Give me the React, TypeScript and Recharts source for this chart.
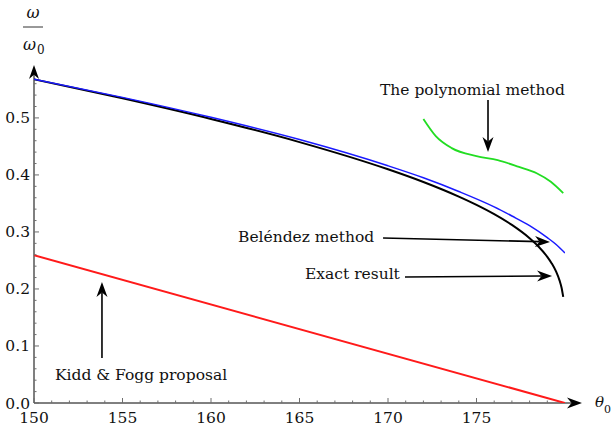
import React from "react"
import { LineChart, Line, XAxis, YAxis, ReferenceLine } from "recharts"

// theta_0 in degrees, omega / omega_0
const exactTheta = [150, 155, 160, 165, 170, 172, 174, 175, 176, 177, 178, 178.5, 179, 179.25, 179.5, 179.7, 179.8, 179.9]
const exactRatio = [0.5677, 0.5344, 0.4982, 0.4576, 0.4099, 0.3876, 0.362, 0.3475, 0.3312, 0.3123, 0.289, 0.2745, 0.2563, 0.2448, 0.2303, 0.2142, 0.203, 0.186]

const belendezTheta = [150, 155, 160, 165, 170, 172, 174, 176, 177, 178, 179, 179.5, 180]
const belendezRatio = [0.568, 0.536, 0.501, 0.462, 0.416, 0.395, 0.371, 0.344, 0.328, 0.311, 0.29, 0.278, 0.263]

const polyTheta = [172.0, 172.7, 173.6, 175.0, 176.2, 177.4, 178.4, 179.2, 179.9]
const polyRatio = [0.498, 0.468, 0.447, 0.433, 0.426, 0.414, 0.403, 0.388, 0.368]

const kiddTheta = [150, 180]
const kiddRatio = [0.259, 0]

const xMajor = [150, 155, 160, 165, 170, 175]
const xTicks = Array.from({ length: 30 }, (_, i) => 150 + i)
const yMajor = [0, 0.1, 0.2, 0.3, 0.4, 0.5]
const yTicks = Array.from({ length: 29 }, (_, i) => Math.round(i * 2) / 100)

const toPoints = (xs: number[], ys: number[]) => xs.map((x, i) => ({ x, y: ys[i] }))

const AXIS = "#6e6e6e"
const FONT = "DejaVu Serif"

const XTick = (props: any) => {
  const { x, y, payload } = props
  const major = xMajor.includes(payload.value)
  return (
    <g>
      <line x1={x} x2={x} y1={y} y2={y - (major ? 5 : 2.5)} stroke={AXIS} strokeWidth={1} />
      {major && (
        <text x={x} y={y + 20} textAnchor="middle" fontFamily={FONT} fontSize={15.5} fill="#111">
          {payload.value}
        </text>
      )}
    </g>
  )
}

const YTick = (props: any) => {
  const { x, y, payload } = props
  const major = yMajor.some((v) => Math.abs(v - payload.value) < 1e-6)
  return (
    <g>
      <line x1={x} x2={x + (major ? 5 : 2.5)} y1={y} y2={y} stroke={AXIS} strokeWidth={1} />
      {major && (
        <text x={x - 4} y={y + 5.5} textAnchor="end" fontFamily={FONT} fontSize={15.5} fill="#111">
          {payload.value.toFixed(1)}
        </text>
      )}
    </g>
  )
}

// line with a filled dart-shaped head at the (x2, y2) end
const arrow = (color: string, width: number, head: number, half: number) => (props: any) => {
  const { x1, y1, x2, y2 } = props
  const dx = x2 - x1
  const dy = y2 - y1
  const len = Math.sqrt(dx * dx + dy * dy) || 1
  const ux = dx / len
  const uy = dy / len
  const bx = x2 - ux * head
  const by = y2 - uy * head
  const nx = -uy
  const ny = ux
  const inner = head * 0.3
  const pts = [
    [x2, y2],
    [bx + nx * half, by + ny * half],
    [bx + ux * inner, by + uy * inner],
    [bx - nx * half, by - ny * half],
  ]
  return (
    <g>
      <line x1={x1} y1={y1} x2={bx + ux * inner} y2={by + uy * inner} stroke={color} strokeWidth={width} />
      <polygon points={pts.map((p) => p.join(",")).join(" ")} fill={color} />
    </g>
  )
}

export default function App() {
  return (
    <div style={{ position: "fixed", left: 0, top: 0, width: 612, height: 427, background: "#fff" }}>
      <LineChart width={612} height={427} margin={{ top: 78, right: 47, bottom: 0, left: 0 }}>
        <XAxis
          type="number"
          dataKey="x"
          domain={[150, 180]}
          ticks={xTicks}
          interval={0}
          tick={<XTick />}
          tickLine={false}
          tickSize={0}
          tickMargin={0}
          axisLine={false}
          height={24}
          allowDataOverflow
        />
        <YAxis
          type="number"
          dataKey="y"
          domain={[0, 0.57]}
          ticks={yTicks}
          interval={0}
          tick={<YTick />}
          tickLine={false}
          tickSize={0}
          tickMargin={0}
          axisLine={false}
          width={34}
          allowDataOverflow
        />
        <ReferenceLine
          segment={[{ x: 150, y: 0 }, { x: 180.96, y: 0 }]}
          ifOverflow="visible"
          shape={arrow("#000", 1, 15, 5.5)}
        />
        <ReferenceLine
          segment={[{ x: 150, y: 0 }, { x: 150, y: 0.593 }]}
          ifOverflow="visible"
          shape={arrow("#000", 1, 14, 5)}
        />
        <Line data={toPoints(kiddTheta, kiddRatio)} dataKey="y" type="linear" stroke="#ff1a1a" strokeWidth={2} dot={false} isAnimationActive={false} />
        <Line data={toPoints(polyTheta, polyRatio)} dataKey="y" type="monotone" stroke="#22dd22" strokeWidth={1.8} dot={false} isAnimationActive={false} />
        <Line data={toPoints(exactTheta, exactRatio)} dataKey="y" type="monotone" stroke="#000" strokeWidth={2} dot={false} isAnimationActive={false} />
        <Line data={toPoints(belendezTheta, belendezRatio)} dataKey="y" type="monotone" stroke="#1a1aff" strokeWidth={1.5} dot={false} isAnimationActive={false} />
        <ReferenceLine
          segment={[{ x: 175.65, y: 0.5316 }, { x: 175.65, y: 0.4404 }]}
          ifOverflow="visible"
          shape={arrow("#000", 1.6, 15, 5.5)}
        />
        <ReferenceLine
          segment={[{ x: 169.72, y: 0.2895 }, { x: 179.15, y: 0.2825 }]}
          ifOverflow="visible"
          shape={arrow("#000", 1.6, 15, 5.5)}
        />
        <ReferenceLine
          segment={[{ x: 170.96, y: 0.221 }, { x: 179.27, y: 0.2228 }]}
          ifOverflow="visible"
          shape={arrow("#000", 1.6, 15, 5.5)}
        />
        <ReferenceLine
          segment={[{ x: 153.84, y: 0.079 }, { x: 153.84, y: 0.2123 }]}
          ifOverflow="visible"
          shape={arrow("#000", 1.6, 15, 5.5)}
        />
      </LineChart>
      <svg width={612} height={427} style={{ position: "absolute", left: 0, top: 0, pointerEvents: "none" }}>
        <g fontFamily={FONT} fill="#111">
          <text x={33} y={18} textAnchor="middle" fontStyle="italic" fontSize={16}>ω</text>
          <line x1={23} x2={43} y1={27} y2={27} stroke="#333" strokeWidth={1} />
          <text x={23} y={50} fontStyle="italic" fontSize={16}>ω</text>
          <text x={37} y={54} fontSize={12}>0</text>
          <text x={595} y={407} fontStyle="italic" fontSize={15}>θ</text>
          <text x={604} y={413} fontSize={11}>0</text>
          <text x={380} y={95} fontSize={15.5}>The polynomial method</text>
          <text x={238} y={242} fontSize={15.5}>Beléndez method</text>
          <text x={305} y={279} fontSize={15.5}>Exact result</text>
          <text x={55} y={380} fontSize={15.5}>Kidd  &amp; Fogg proposal</text>
        </g>
      </svg>
    </div>
  )
}
